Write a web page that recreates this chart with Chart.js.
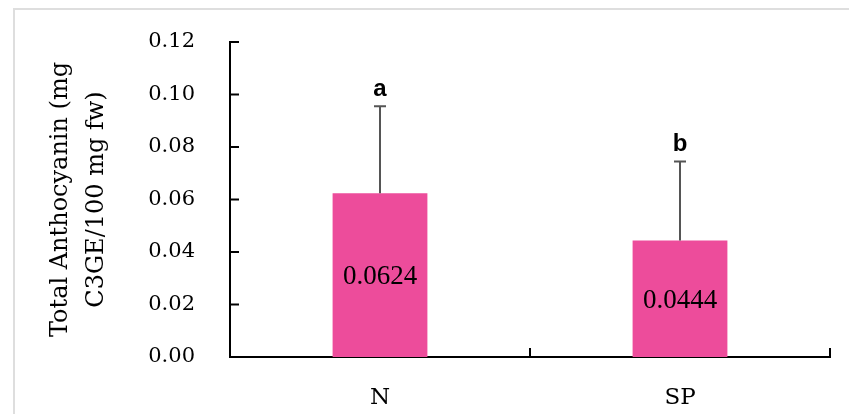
<!DOCTYPE html>
<html>
<head>
<meta charset="utf-8">
<script src="https://cdn.jsdelivr.net/npm/chart.js@4"></script>
<style>
  body { margin: 0; background: #fff; }
  #wrap { position: relative; width: 849px; height: 414px; }
  #frame { position: absolute; left: 13px; top: 8px; right: 0; bottom: 0;
           border-left: 2px solid #dedede; border-top: 2px solid #dedede; }
  canvas { position: absolute; left: 0; top: 0; }
</style>
</head>
<body>
<div id="wrap">
  <div id="frame"></div>
  <canvas id="anthocyanin_chart" width="849" height="414"></canvas>
</div>
<script>
// Dados do gráfico
var categories = ['N', 'SP'];
var mean_values = [0.0624, 0.0444];
var error_values = [0.0331, 0.0301];   // barra de erro (só para cima)
var group_letters = ['a', 'b'];
var y_ticks = [0, 0.02, 0.04, 0.06, 0.08, 0.10, 0.12];
var y_title = ['Total Anthocyanin (mg', 'C3GE/100 mg fw)'];

var serif = 'DejaVu Serif';

// Plugin: ticks para dentro, barras de erro, letras e valores
var extras = {
    id: 'extras',
    afterDatasetsDraw: function(chart) {
        var ctx = chart.ctx;
        var x = chart.scales.x;
        var y = chart.scales.y;
        var area = chart.chartArea;
        ctx.save();

        // ticks do eixo y
        ctx.strokeStyle = '#000';
        ctx.lineWidth = 2;
        y_ticks.forEach(function(v) {
            var py = y.getPixelForValue(v);
            ctx.beginPath();
            ctx.moveTo(area.left, py);
            ctx.lineTo(area.left + 9, py);
            ctx.stroke();
        });

        // ticks do eixo x (entre categorias)
        var step = x.getPixelForValue(1) - x.getPixelForValue(0);
        for (var i = 0; i <= categories.length; i++) {
            var px = x.getPixelForValue(0) - step / 2 + i * step;
            ctx.beginPath();
            ctx.moveTo(px, area.bottom);
            ctx.lineTo(px, area.bottom - 9);
            ctx.stroke();
        }

        for (var j = 0; j < categories.length; j++) {
            var cx = x.getPixelForValue(j);
            var top = y.getPixelForValue(mean_values[j]);
            var errTop = y.getPixelForValue(mean_values[j] + error_values[j]);

            // barra de erro
            ctx.strokeStyle = '#555';
            ctx.lineWidth = 2;
            ctx.beginPath();
            ctx.moveTo(cx, top);
            ctx.lineTo(cx, errTop);
            ctx.moveTo(cx - 6, errTop);
            ctx.lineTo(cx + 6, errTop);
            ctx.stroke();

            // letra de significância
            ctx.fillStyle = '#000';
            ctx.font = 'bold 24px "Liberation Sans"';
            ctx.textAlign = 'center';
            ctx.textBaseline = 'alphabetic';
            ctx.fillText(group_letters[j], cx, errTop - 10);

            // valor dentro da barra
            ctx.font = '27px "Liberation Serif"';
            ctx.textBaseline = 'middle';
            ctx.fillText(mean_values[j].toFixed(4), cx, (top + area.bottom) / 2 + 2);
        }
        ctx.restore();
    }
};

var ctx = document.getElementById('anthocyanin_chart');
var anthocyanin_chart = new Chart(ctx, {
    type: 'bar',
    data: {
        labels: categories,
        datasets: [{
            label: 'Total Anthocyanin',
            data: mean_values,
            backgroundColor: '#ED4C9B',
            borderWidth: 0,
            barPercentage: 0.316,
            categoryPercentage: 1
        }]
    },
    options: {
        responsive: false,
        animation: false,
        layout: { padding: { left: 0, right: 19, top: 42, bottom: 0 } },
        plugins: {
            legend: { display: false },
            tooltip: { enabled: false }
        },
        scales: {
            x: {
                offset: true,
                grid: { display: false, drawTicks: false },
                border: { display: true, color: '#000', width: 2 },
                ticks: { color: '#000', padding: 27, font: { family: serif, size: 23 } },
                afterFit: function(s) { s.height = 57; }
            },
            y: {
                min: 0,
                max: 0.12,
                grid: { display: false, drawTicks: false },
                border: { display: true, color: '#000', width: 2 },
                ticks: {
                    stepSize: 0.02,
                    color: '#000',
                    padding: 35,
                    font: { family: serif, size: 21 },
                    callback: function(v) { return v.toFixed(2); }
                },
                title: {
                    display: true,
                    text: y_title,
                    color: '#000',
                    font: { family: serif, size: 24, lineHeight: 1.5 },
                    padding: { top: 43, bottom: 0 }
                },
                afterFit: function(s) {
                    s.width = 230;
                    s.paddingTop = 0;
                    s.paddingBottom = 0;
                }
            }
        }
    },
    plugins: [extras]
});
</script>
</body>
</html>
